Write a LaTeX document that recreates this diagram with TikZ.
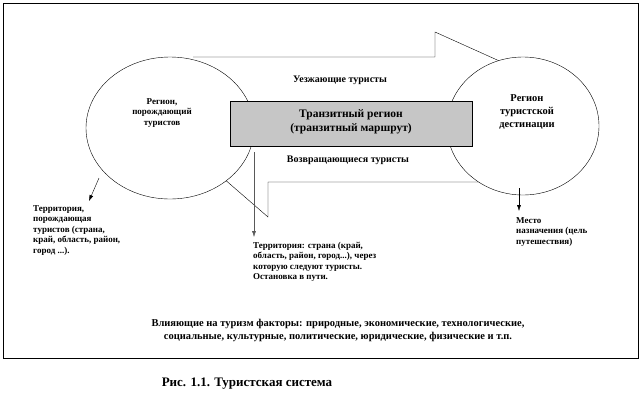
\documentclass[tikz,border=0pt]{standalone}
\usepackage{fontspec}
\setmainfont{Liberation Serif}
\usetikzlibrary{shapes.geometric,arrows.meta}
\begin{document}
\begin{tikzpicture}[x=1pt,y=-1pt,
  sm/.style={font=\bfseries\fontsize{9}{10.5}\selectfont,align=left,inner sep=0},
  md/.style={font=\bfseries\fontsize{10.5}{13}\selectfont,align=center,inner sep=0},
  arr/.style={-{Latex[length=6pt,width=4pt]}}]
\useasboundingbox (0,0) rectangle (642,410);
\node[draw,minimum width=635,minimum height=355,anchor=north west] (frame) at (3,3) {};
\draw (193,57) -- (435,57) -- (435,32) -- (515,68);
\draw (505,182) -- (268,182) -- (268,217) -- (223,178);
\node[draw,fill=white,ellipse,minimum width=168,minimum height=142] (L) at (170,128) {};
\node[draw,fill=white,ellipse,minimum width=152,minimum height=138] (R) at (523,126) {};
\node[draw,fill=gray!45,minimum width=242,minimum height=45] (T) at (351,123.5) {};
\node[md,font=\bfseries\fontsize{11.5}{14}\selectfont] (tt) at (351,122) {Транзитный регион\\(транзитный маршрут)};
\node[sm,align=center] (lt) at (162,113) {Регион,\\порождающий\\туристов};
\node[md] (rt) at (527,112) {Регион\\туристской\\дестинации};
\node[sm,font=\bfseries\fontsize{10}{12}\selectfont] (up) at (340,80) {Уезжающие туристы};
\node[sm,font=\bfseries\fontsize{10}{12}\selectfont] (dn) at (348,160) {Возвращающиеся туристы};
\node[sm,anchor=north west] (t1) at (33,205) {Территория,\\порождающая\\туристов (страна,\\край, область, район,\\город ...).};
\node[sm,anchor=north west] (t2) at (253,242) {Территория: страна (край,\\область, район, город...), через\\которую следуют туристы.\\Остановка в пути.};
\node[sm,anchor=north west] (t3) at (516,217) {Место\\назначения (цель\\путешествия)};
\node[md] (f) at (338,330) {Влияющие на туризм факторы: природные, экономические, технологические,\\социальные, культурные, политические, юридические, физические и т.п.};
\node[font=\bfseries\fontsize{13}{15}\selectfont,inner sep=0] (cap) at (247,384) {Рис. 1.1. Туристская система};
\coordinate (a1) at (99,178);
\draw[arr] (a1) -- (89,201);
\coordinate (a2) at (254,152);
\draw[arr,gray!70!black] (a2) -- (254,237);
\coordinate (a3) at (519,188);
\draw[arr] (a3) -- (519,211);
\end{tikzpicture}
\end{document}
